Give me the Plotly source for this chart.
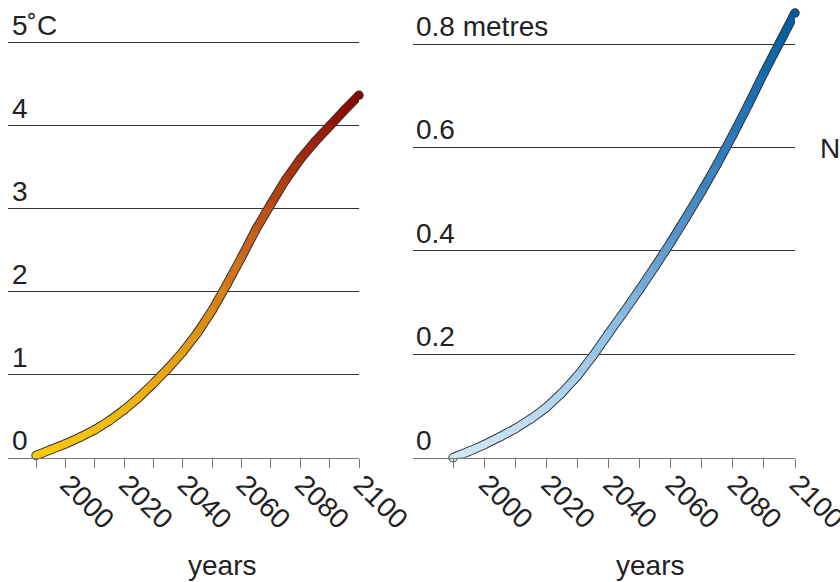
import plotly.graph_objects as go
from plotly.colors import sample_colorscale

# ---------------- data ----------------
years = list(range(1990, 2101, 5))
temperature = [0.03, 0.10, 0.17, 0.25, 0.34, 0.45, 0.58, 0.73, 0.90, 1.08, 1.28,
               1.51, 1.78, 2.09, 2.42, 2.76, 3.06, 3.35, 3.60, 3.81, 4.00, 4.19, 4.37]
sea_level = [0.0, 0.012, 0.025, 0.04, 0.056, 0.075, 0.097, 0.125, 0.158, 0.197, 0.240,
             0.282, 0.325, 0.370, 0.416, 0.465, 0.515, 0.568, 0.624, 0.683, 0.744, 0.802, 0.860]

x_tick_vals = [1990, 2000, 2010, 2020, 2030, 2040, 2050, 2060, 2070, 2080, 2090, 2100]
x_tick_text = ["", "2000", "", "2020", "", "2040", "", "2060", "", "2080", "", "2100"]
temp_tick_vals = [0, 1, 2, 3, 4, 5]
temp_tick_text = ["0", "1", "2", "3", "4", "5˚C"]
sea_tick_vals = [0, 0.2, 0.4, 0.6, 0.8]
sea_tick_text = ["0", "0.2", "0.4", "0.6", "0.8 metres"]
x_title = "years"
side_text = "N"

temp_scale = [[0, "#fcca0c"], [0.3, "#e39d12"], [0.6, "#c6621a"], [1, "#8a0602"]]
sea_scale = [[0, "#d0e9f8"], [0.3, "#8cbde3"], [0.55, "#4a8dc7"], [1, "#005b9c"]]

FONT = "Liberation Sans, Arial, Helvetica, sans-serif"
W, H = 840, 582
OUT_W, IN_W = 9.4, 7.4

fig = go.Figure()


def add_tube(xs, ys, scale, xa, ya):
    vmax = max(ys)
    fig.add_trace(go.Scatter(x=xs, y=ys, xaxis=xa, yaxis=ya, mode="lines+markers",
                             line=dict(color="#333333", width=OUT_W, simplify=False),
                             marker=dict(size=OUT_W, color="#333333", line=dict(width=0)),
                             cliponaxis=False, hoverinfo="skip"))
    fracs = [y / vmax for y in ys]
    cols = sample_colorscale(scale, fracs)
    for i in range(len(xs) - 1):
        c = sample_colorscale(scale, [(fracs[i] + fracs[i + 1]) / 2])[0]
        fig.add_trace(go.Scatter(x=xs[i:i + 2], y=ys[i:i + 2], xaxis=xa, yaxis=ya,
                                 mode="lines", line=dict(color=c, width=IN_W, simplify=False),
                                 hoverinfo="skip"))
    fig.add_trace(go.Scatter(x=xs, y=ys, xaxis=xa, yaxis=ya, mode="markers",
                             marker=dict(size=IN_W, color=cols, line=dict(width=0)),
                             cliponaxis=False, hoverinfo="skip"))


add_tube(years, temperature, temp_scale, "x", "y")
add_tube(years, sea_level, sea_scale, "x2", "y2")

xaxis_common = dict(tickvals=x_tick_vals, ticktext=x_tick_text, tickangle=45,
                    ticks="outside", ticklen=9, tickcolor="#777", tickwidth=1,
                    showline=True, linecolor="#777", linewidth=1,
                    showgrid=False, zeroline=False, automargin=False,
                    ticklabeloverflow="allow", ticklabelstandoff=-11, ticklabelshift=3,
                    tickfont=dict(size=28, color="#222", family=FONT))
yaxis_common = dict(showgrid=True, gridcolor="#333", gridwidth=1, zeroline=False,
                    showline=False, ticks="", showticklabels=False, automargin=False)

L_DOM = [8 / W, 359 / W]
R_DOM = [413 / W, 795 / W]

annotations = []
for v, t in zip(temp_tick_vals, temp_tick_text):
    annotations.append(dict(text=t, x=L_DOM[0] + 2 / W, y=v, xref="paper", yref="y",
                            xanchor="left", yanchor="bottom", showarrow=False,
                            font=dict(size=28, color="#222", family=FONT)))
for v, t in zip(sea_tick_vals, sea_tick_text):
    annotations.append(dict(text=t, x=R_DOM[0] + 1 / W, y=v, xref="paper", yref="y2",
                            xanchor="left", yanchor="bottom", showarrow=False,
                            font=dict(size=28, color="#222", family=FONT)))
for cx in (222, 650):
    annotations.append(dict(text=x_title, x=cx / W, y=1 - 565 / H, xref="paper", yref="paper",
                            xanchor="center", yanchor="middle", showarrow=False,
                            font=dict(size=28, color="#222", family=FONT)))
annotations.append(dict(text=side_text, x=818 / W, y=1 - 148 / H, xref="paper", yref="paper",
                        xanchor="left", yanchor="middle", showarrow=False,
                        font=dict(size=28, color="#222", family=FONT)))

fig.update_layout(
    width=W, height=H,
    margin=dict(l=0, r=0, t=0, b=0, autoexpand=False),
    paper_bgcolor="white", plot_bgcolor="white",
    showlegend=False,
    font=dict(family=FONT, size=28, color="#222"),
    xaxis=dict(domain=L_DOM, range=[1980.46, 2100], anchor="y", **xaxis_common),
    yaxis=dict(domain=[1 - 458 / H, 1 - 41.3 / H], range=[0, 5.02], anchor="x",
               tickvals=temp_tick_vals, **yaxis_common),
    xaxis2=dict(domain=R_DOM, range=[1977.13, 2100], anchor="y2", **xaxis_common),
    yaxis2=dict(domain=[1 - 457.7 / H, 0.999], range=[0, 0.884], anchor="x2",
                tickvals=sea_tick_vals, **yaxis_common),
    annotations=annotations,
)

fig.write_html("out.html",
               config={"displayModeBar": False},
               post_script="document.body.style.margin='0px';"
                           "document.body.style.overflow='hidden';")
